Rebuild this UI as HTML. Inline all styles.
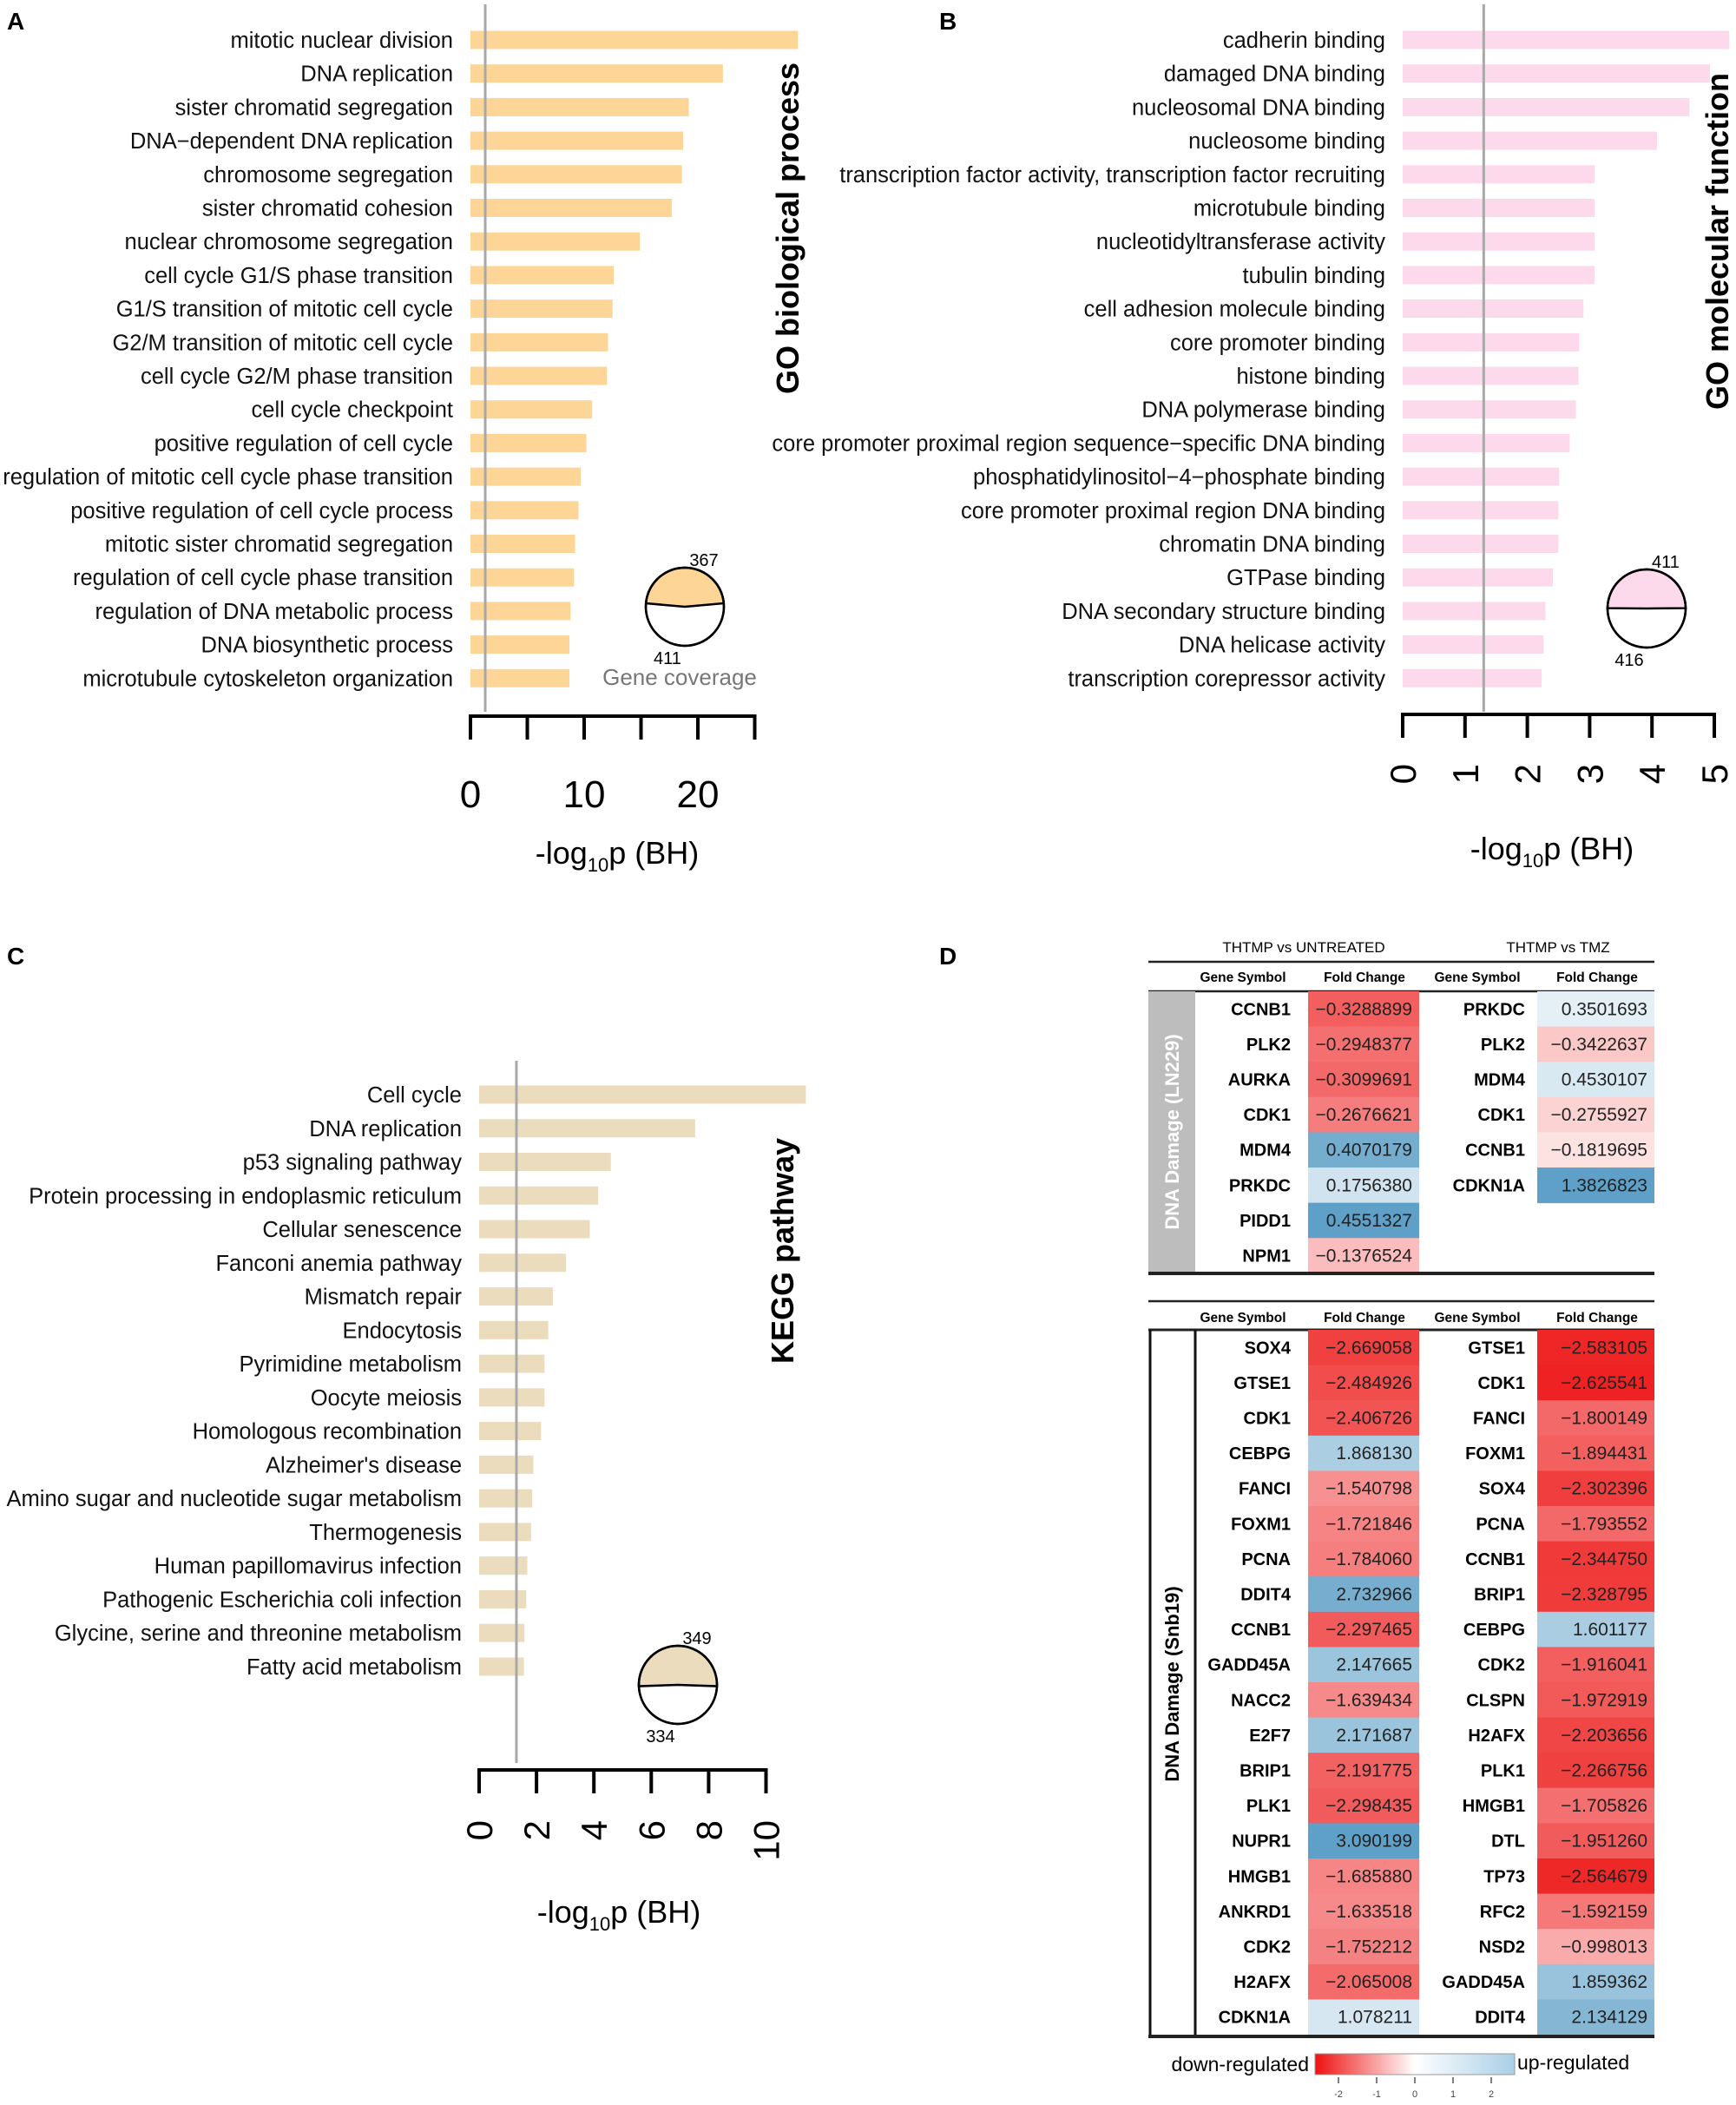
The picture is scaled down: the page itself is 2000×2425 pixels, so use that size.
<!DOCTYPE html>
<html><head><meta charset="utf-8"><style>
html,body{margin:0;padding:0;background:#fff;}
svg{display:block;font-family:"Liberation Sans",Arial,sans-serif;}
</style></head><body>
<svg id="fig" width="2000" height="2425" viewBox="0 0 2000 2425" xmlns="http://www.w3.org/2000/svg">
<text x="8" y="34" font-size="28" font-weight="bold">A</text>
<text x="1082" y="34" font-size="28" font-weight="bold">B</text>
<text x="8" y="1111" font-size="28" font-weight="bold">C</text>
<text x="1082" y="1111" font-size="28" font-weight="bold">D</text>
<g id="pA"></g>
<g id="pB"></g>
<g id="pC"></g>
<g id="pD"></g>
</svg>
<script>
const catsA=["mitotic nuclear division","DNA replication","sister chromatid segregation","DNA\u2212dependent DNA replication","chromosome segregation","sister chromatid cohesion","nuclear chromosome segregation","cell cycle G1/S phase transition","G1/S transition of mitotic cell cycle","G2/M transition of mitotic cell cycle","cell cycle G2/M phase transition","cell cycle checkpoint","positive regulation of cell cycle","regulation of mitotic cell cycle phase transition","positive regulation of cell cycle process","mitotic sister chromatid segregation","regulation of cell cycle phase transition","regulation of DNA metabolic process","DNA biosynthetic process","microtubule cytoskeleton organization"];
const valsA=[28.8,22.2,19.2,18.7,18.6,17.7,14.9,12.6,12.5,12.1,12.0,10.7,10.2,9.7,9.5,9.2,9.1,8.8,8.7,8.7];
const ticksA=[0,5,10,15,20,25];
const tickLabelsA=["0","10","20"];
const catsB=["cadherin binding","damaged DNA binding","nucleosomal DNA binding","nucleosome binding","transcription factor activity, transcription factor recruiting","microtubule binding","nucleotidyltransferase activity","tubulin binding","cell adhesion molecule binding","core promoter binding","histone binding","DNA polymerase binding","core promoter proximal region sequence\u2212specific DNA binding","phosphatidylinositol\u22124\u2212phosphate binding","core promoter proximal region DNA binding","chromatin DNA binding","GTPase binding","DNA secondary structure binding","DNA helicase activity","transcription corepressor activity"];
const valsB=[5.24,4.93,4.60,4.08,3.08,3.08,3.08,3.08,2.90,2.83,2.82,2.78,2.68,2.51,2.50,2.50,2.41,2.29,2.26,2.23];
const ticksB=[0,1,2,3,4,5];
const tickLabelsB=["0","1","2","3","4","5"];
const catsC=["Cell cycle","DNA replication","p53 signaling pathway","Protein processing in endoplasmic reticulum","Cellular senescence","Fanconi anemia pathway","Mismatch repair","Endocytosis","Pyrimidine metabolism","Oocyte meiosis","Homologous recombination","Alzheimer's disease","Amino sugar and nucleotide sugar metabolism","Thermogenesis","Human papillomavirus infection","Pathogenic Escherichia coli infection","Glycine, serine and threonine metabolism","Fatty acid metabolism"];
const valsC=[11.39,7.53,4.59,4.15,3.86,3.03,2.57,2.41,2.28,2.28,2.16,1.89,1.85,1.81,1.68,1.64,1.58,1.56];
const ticksC=[0,2,4,6,8,10];
const tickLabelsC=["0","2","4","6","8","10"];
const pieA=[367,411], pieB=[411,416], pieC=[349,334];
const topGenes1=["CCNB1","PLK2","AURKA","CDK1","MDM4","PRKDC","PIDD1","NPM1"];
const topVals1=["-0.3288899","-0.2948377","-0.3099691","-0.2676621","0.4070179","0.1756380","0.4551327","-0.1376524"];
const topGenes2=["PRKDC","PLK2","MDM4","CDK1","CCNB1","CDKN1A"];
const topVals2=["0.3501693","-0.3422637","0.4530107","-0.2755927","-0.1819695","1.3826823"];
const botGenes1=["SOX4","GTSE1","CDK1","CEBPG","FANCI","FOXM1","PCNA","DDIT4","CCNB1","GADD45A","NACC2","E2F7","BRIP1","PLK1","NUPR1","HMGB1","ANKRD1","CDK2","H2AFX","CDKN1A"];
const botVals1=["-2.669058","-2.484926","-2.406726","1.868130","-1.540798","-1.721846","-1.784060","2.732966","-2.297465","2.147665","-1.639434","2.171687","-2.191775","-2.298435","3.090199","-1.685880","-1.633518","-1.752212","-2.065008","1.078211"];
const botGenes2=["GTSE1","CDK1","FANCI","FOXM1","SOX4","PCNA","CCNB1","BRIP1","CEBPG","CDK2","CLSPN","H2AFX","PLK1","HMGB1","DTL","TP73","RFC2","NSD2","GADD45A","DDIT4"];
const botVals2=["-2.583105","-2.625541","-1.800149","-1.894431","-2.302396","-1.793552","-2.344750","-2.328795","1.601177","-1.916041","-1.972919","-2.203656","-2.266756","-1.705826","-1.951260","-2.564679","-1.592159","-0.998013","1.859362","2.134129"];
const legendTicks=[-2,-1,0,1,2];

const NS="http://www.w3.org/2000/svg";
function mk(parent,tag,attrs,txt){const e=document.createElementNS(NS,tag);for(const k in attrs)e.setAttribute(k,attrs[k]);if(txt!==undefined)e.textContent=txt;parent.appendChild(e);return e;}

function barPanel(g,cfg){
  const sx=v=>cfg.x0+v*cfg.ppu;
  const sy=i=>cfg.y0+i*cfg.step;
  cfg.cats.forEach((c,i)=>{
    const r=mk(g,'rect',{x:sx(0),y:sy(i)-cfg.bh/2,width:sx(cfg.vals[i])-sx(0),height:cfg.bh,fill:cfg.color});
    
    
    const t=mk(g,'text',{x:cfg.x0-20,y:sy(i)+9,'font-size':25.5,'text-anchor':'end',fill:'#111'},c);
    
    
  });
  const th=mk(g,'line',{x1:sx(1.3),x2:sx(1.3),y1:cfg.thY1,y2:cfg.thY2,stroke:'#a8a8a8','stroke-width':3});
  
  
  const ax=mk(g,'line',{x1:sx(cfg.ticks[0]),x2:sx(cfg.ticks[cfg.ticks.length-1]),y1:cfg.axY,y2:cfg.axY,stroke:'#000','stroke-width':4});
  
  
  cfg.ticks.forEach(v=>{
    const tk=mk(g,'line',{x1:sx(v),x2:sx(v),y1:cfg.axY-2,y2:cfg.axY+27,stroke:'#000','stroke-width':4});
    
    
  });
  cfg.tickLabels.forEach(l=>{
    const v=parseFloat(l);
    let t;
    if(cfg.rot){
      t=mk(g,'text',{x:0,y:0,'font-size':42,'text-anchor':'end',transform:`translate(${sx(v)+15},${cfg.lblY}) rotate(-90)`},l);
    }else{
      t=mk(g,'text',{x:sx(v),y:cfg.lblY,'font-size':44,'text-anchor':'middle'},l);
    }
    
    
  });
  const tt=mk(g,'text',{x:cfg.titleX,y:cfg.titleY,'font-size':36,'text-anchor':'middle'});
  
  
  mk(tt,'tspan',{},'-log');
  mk(tt,'tspan',{'font-size':22,dy:9},'10');
  mk(tt,'tspan',{dy:-9},'p (BH)');
  const pt=mk(g,'text',{x:0,y:0,'font-size':36,'font-weight':'bold','text-anchor':'middle',transform:`translate(${cfg.ptX},${cfg.ptY}) rotate(-90)`},cfg.title);
  
  
  const [a,b]=cfg.pie, cx=cfg.pieX, cy=cfg.pieY, R=45;
  const frac=a/(a+b); const ang=Math.PI*frac;
  const start=-Math.PI/2-ang, end=-Math.PI/2+ang;
  mk(g,'circle',{cx,cy,r:R,fill:'#fff',stroke:'#000','stroke-width':2.5});
  const p=mk(g,'path',{d:`M${cx},${cy} L${cx+R*Math.cos(start)},${cy+R*Math.sin(start)} A${R},${R} 0 ${2*ang>Math.PI?1:0} 1 ${cx+R*Math.cos(end)},${cy+R*Math.sin(end)} Z`,fill:cfg.color,stroke:'#000','stroke-width':2.5});
  
  
  mk(g,'circle',{cx,cy,r:R,fill:'none',stroke:'#000','stroke-width':2.5});
  const l1=mk(g,'text',{x:cx+22,y:cy-47,'font-size':20,'text-anchor':'middle'},String(a));
  
  
  const l2=mk(g,'text',{x:cx-20,y:cy+66,'font-size':20,'text-anchor':'middle'},String(b));
  
  
  if(cfg.gc){const gc=mk(g,'text',{x:cx-6,y:cy+90,'font-size':26,'text-anchor':'middle',fill:'#777'},'Gene coverage');
  
  }
}
barPanel(document.getElementById('pA'),{cats:catsA,vals:valsA,ticks:ticksA,tickLabels:tickLabelsA,x0:542,ppu:13.1,y0:46,step:38.7,bh:21,color:'#fdd597',thY1:5,thY2:820,axY:825,lblY:930,rot:false,titleX:711,titleY:995,ptX:920,ptY:263,title:'GO biological process',pie:pieA,pieX:789,pieY:699,gc:true});
barPanel(document.getElementById('pB'),{cats:catsB,vals:valsB,ticks:ticksB,tickLabels:tickLabelsB,x0:1616,ppu:71.8,y0:46,step:38.7,bh:21,color:'#fdd9ec',thY1:5,thY2:820,axY:823,lblY:880,rot:true,titleX:1788,titleY:990,ptX:1991,ptY:278,title:'GO molecular function',pie:pieB,pieX:1897,pieY:701,gc:false});
barPanel(document.getElementById('pC'),{cats:catsC,vals:valsC,ticks:ticksC,tickLabels:tickLabelsC,x0:552,ppu:33.05,y0:1261,step:38.76,bh:21,color:'#ecdcbe',thY1:1222,thY2:2031,axY:2039,lblY:2097,rot:true,titleX:713,titleY:2215,ptX:914,ptY:1441,title:'KEGG pathway',pie:pieC,pieX:781,pieY:1941,gc:false});

const D=document.getElementById('pD');
function col(v,max){const t=Math.min(1,Math.abs(v)/max);
  if(v<0){const c=[238,34,34];return `rgb(${Math.round(255+(c[0]-255)*t)},${Math.round(255+(c[1]-255)*t)},${Math.round(255+(c[2]-255)*t)})`;}
  const c=[95,160,200];const u=Math.pow(t,1.3);return `rgb(${Math.round(255+(c[0]-255)*u)},${Math.round(255+(c[1]-255)*u)},${Math.round(255+(c[2]-255)*u)})`;}
function hline(y,w){const l=mk(D,'line',{x1:1323,x2:1906,y1:y,y2:y,stroke:'#222','stroke-width':w});}
function headers(y){
  [["Gene Symbol",1432],["Fold Change",1572],["Gene Symbol",1702],["Fold Change",1840]].forEach(h=>{
    const t=mk(D,'text',{x:h[1],y:y,'font-size':15.5,'font-weight':'bold','text-anchor':'middle'},h[0]);
    
    
  });
}
function column(genes,vals,top,step,gx,cx,cw,max){
  genes.forEach((g,i)=>{
    const v=parseFloat(vals[i]); const y=top+i*step;
    const r=mk(D,'rect',{x:cx,y:y,width:cw,height:step+0.5,fill:col(v,max)});
    
    
    const t=mk(D,'text',{x:cx+cw-8,y:y+step/2+7,'font-size':21,'text-anchor':'end',fill:'#222'},vals[i].replace('-','\u2212'));
    
    
    const gt=mk(D,'text',{x:gx,y:y+step/2+7,'font-size':20,'font-weight':'bold','text-anchor':'end'},g);
    
    
  });
}
const t1=mk(D,'text',{x:1502,y:1097,'font-size':17,'text-anchor':'middle'},'THTMP vs UNTREATED');

const t2=mk(D,'text',{x:1795,y:1097,'font-size':17,'text-anchor':'middle'},'THTMP vs TMZ');

hline(1108,2.5); headers(1131); hline(1142,2.5);
const band=mk(D,'rect',{x:1323,y:1142,width:54,height:325,fill:'#bdbdbd'});

const bl=mk(D,'text',{x:0,y:0,'font-size':22,'font-weight':'bold','fill':'#fff','text-anchor':'middle',transform:'translate(1358,1304) rotate(-90)','xml:space':'preserve'},'DNA Damage  (LN229)');

column(topGenes1,topVals1,1142,40.6,1487,1507,128,0.455);
column(topGenes2,topVals2,1142,40.6,1757,1771,135,1.38);
hline(1467,4);
hline(1499,2.5); headers(1523); hline(1532,3);
column(botGenes1,botVals1,1532,40.6,1487,1507,128,3.09);
column(botGenes2,botVals2,1532,40.6,1757,1771,135,2.63);
[1325,1377].forEach(x=>{const l=mk(D,'line',{x1:x,x2:x,y1:1532,y2:2346,stroke:'#111','stroke-width':3});});
hline(2346,4);
const bl2=mk(D,'text',{x:0,y:0,'font-size':22,'font-weight':'bold','text-anchor':'middle',transform:'translate(1358,1940) rotate(-90)'},'DNA Damage (Snb19)');

const defs=mk(D,'defs',{});
const lg=mk(defs,'linearGradient',{id:'lg',x1:0,x2:1,y1:0,y2:0});
mk(lg,'stop',{offset:'0','stop-color':'#ee1111'});mk(lg,'stop',{offset:'0.5','stop-color':'#ffffff'});mk(lg,'stop',{offset:'1','stop-color':'#a9cfe6'});
const lr=mk(D,'rect',{x:1515,y:2366,width:230,height:24,fill:'url(#lg)',stroke:'#999','stroke-width':1});

const ld=mk(D,'text',{x:1508,y:2386,'font-size':23,'text-anchor':'end'},'down-regulated');

const lu=mk(D,'text',{x:1748,y:2384,'font-size':23},'up-regulated');

const lx=v=>1630+v*44;
legendTicks.forEach(v=>{
  mk(D,'line',{x1:lx(v),x2:lx(v),y1:2393,y2:2400,stroke:'#555','stroke-width':1.5});
  const t=mk(D,'text',{x:lx(v),y:2416,'font-size':11,'text-anchor':'middle',fill:'#444'},String(v));
  
  
});
</script>
</body></html>
